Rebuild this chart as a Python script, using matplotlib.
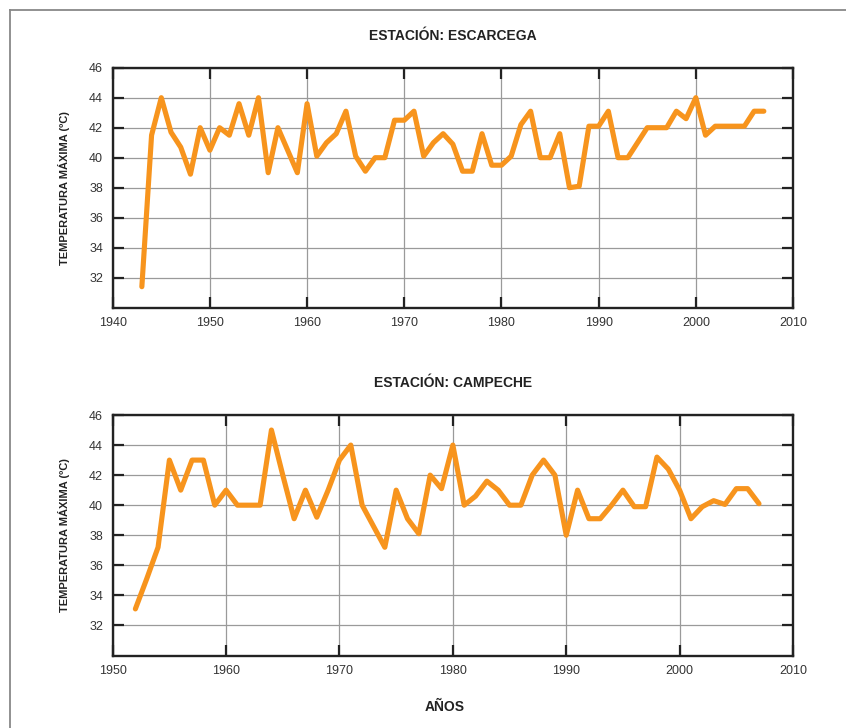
import matplotlib
matplotlib.use("Agg")
import matplotlib.pyplot as plt
from matplotlib.lines import Line2D

plt.rcParams['font.family'] = ['Liberation Sans', 'DejaVu Sans']

# ---- Data: Escárcega ----
years_esc = list(range(1943, 2008))
tmax_esc = [31.4, 41.5, 44.0, 41.7, 40.7, 38.9, 42.0, 40.5, 42.0, 41.5,
            43.6, 41.5, 44.0, 39.0, 42.0, 40.5, 39.0, 43.6, 40.1, 41.0,
            41.6, 43.1, 40.1, 39.1, 40.0, 40.0, 42.5, 42.5, 43.1, 40.1,
            41.0, 41.6, 40.9, 39.1, 39.1, 41.6, 39.5, 39.5, 40.1, 42.2,
            43.1, 40.0, 40.0, 41.6, 38.0, 38.1, 42.1, 42.1, 43.1, 40.0,
            40.0, 41.0, 42.0, 42.0, 42.0, 43.1, 42.6, 44.0, 41.5, 42.1,
            42.1, 42.1, 42.1, 43.1, 43.1]

# ---- Data: Campeche ----
years_cam = list(range(1952, 2008))
tmax_cam = [33.1, 35.1, 37.2, 43.0, 41.0, 43.0, 43.0, 40.0, 41.0, 40.0,
            40.0, 40.0, 45.0, 42.0, 39.1, 41.0, 39.2, 41.0, 43.0, 44.0,
            40.0, 38.6, 37.2, 41.0, 39.1, 38.1, 42.0, 41.1, 44.0, 40.0,
            40.6, 41.6, 41.0, 40.0, 40.0, 42.0, 43.0, 42.0, 38.0, 41.0,
            39.1, 39.1, 40.0, 41.0, 39.9, 39.9, 43.2, 42.4, 41.0, 39.1,
            39.9, 40.3, 40.05, 41.1, 41.1, 40.1]

titles = ["ESTACIÓN: ESCARCEGA", "ESTACIÓN: CAMPECHE"]
ylabel = "TEMPERATURA MÁXIMA (ºC)"
xlabel = "AÑOS"
yticks = [32, 34, 36, 38, 40, 42, 44, 46]
xticks_esc = [1940, 1950, 1960, 1970, 1980, 1990, 2000, 2010]
xticks_cam = [1950, 1960, 1970, 1980, 1990, 2000, 2010]

W, H = 846, 728
fig = plt.figure(figsize=(W / 100, H / 100), dpi=100)

line_color = '#F7941D'
text_color = '#333333'

def setup(ax, xs, ys, xt, xlim, title):
    ax.plot(xs, ys, color=line_color, lw=3.7, solid_joinstyle='round',
            solid_capstyle='round', zorder=3)
    ax.set_xlim(*xlim)
    ax.set_ylim(30, 46)
    ax.set_xticks(xt)
    ax.set_yticks(yticks)
    ax.grid(True, color='#9a9a9a', lw=0.9)
    ax.set_axisbelow(True)
    ax.tick_params(direction='in', length=8, width=1.6, top=True, right=True,
                   labelsize=9, labelcolor=text_color, color='#222222', pad=7)
    for s in ax.spines.values():
        s.set_linewidth(1.7)
        s.set_color('#222222')
    ax.set_title(title, fontsize=10, fontweight='bold', color='#222222', pad=20)
    ax.set_ylabel(ylabel, fontsize=8, fontweight='bold', color='#222222', labelpad=14)

ax1 = fig.add_axes([112.7 / W, 1 - 307.7 / H, (793 - 112.7) / W, 240 / H])
setup(ax1, years_esc, tmax_esc, xticks_esc, (1940, 2010), titles[0])

ax2 = fig.add_axes([112.7 / W, 1 - 655.5 / H, (793 - 112.7) / W, 240.5 / H])
setup(ax2, years_cam, tmax_cam, xticks_cam, (1950, 2010), titles[1])

fig.text(445 / W, 1 - 707 / H, xlabel, ha='center', va='center',
         fontsize=10, fontweight='bold', color='#222222')

# outer frame (top and left edges)
fig.add_artist(Line2D([9.5 / W, 9.5 / W], [0, 1 - 9.5 / H], transform=fig.transFigure,
                      color='#888888', lw=1.3))
fig.add_artist(Line2D([9.5 / W, 1], [1 - 9.5 / H, 1 - 9.5 / H], transform=fig.transFigure,
                      color='#888888', lw=1.3))

fig.savefig("out.png", dpi=100)
